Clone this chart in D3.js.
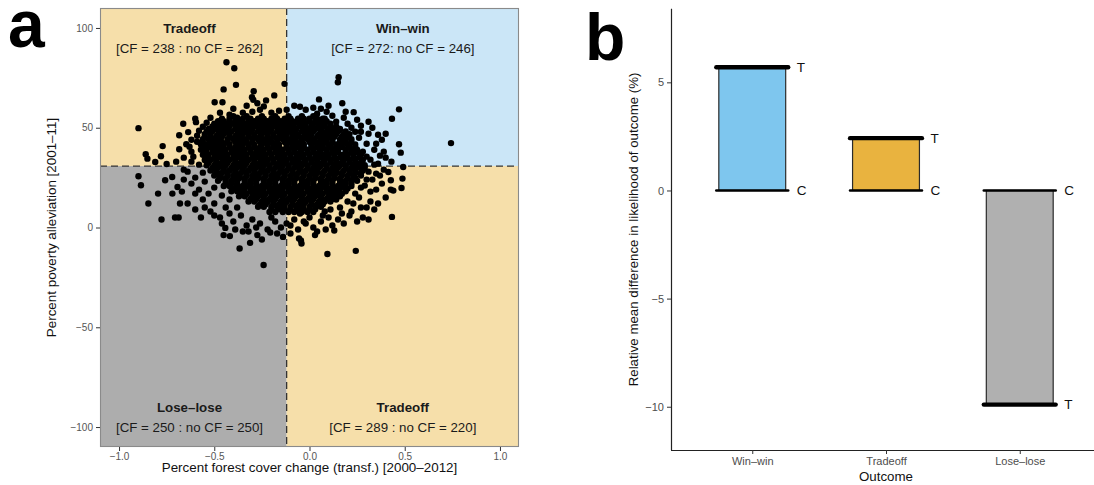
<!DOCTYPE html>
<html><head><meta charset="utf-8">
<script src="https://cdn.jsdelivr.net/npm/d3@7"></script>
<style>
html,body{margin:0;padding:0;background:#fff;}
svg{display:block;font-family:"Liberation Sans",Arial,Helvetica,sans-serif;}
</style></head><body>
<svg id="chart" width="1094" height="485"></svg>
<script>
// ---------------- DATA ----------------
const xThreshold = -0.12;
const yThreshold = 30.8;
const quadrantNames = ["Tradeoff", "Win–win", "Lose–lose", "Tradeoff"];
const quadrantCounts = ["[CF = 238 : no CF = 262]", "[CF = 272: no CF = 246]", "[CF = 250 : no CF = 250]", "[CF = 289 : no CF = 220]"];
const quadrantLabelX = [-0.63, 0.49, -0.63, 0.49];
const quadrantLabelY = [100, 100, -90, -90];
const xTicksA = [-1.0, -0.5, 0.0, 0.5, 1.0];
const yTicksA = [-100, -50, 0, 50, 100];

// dense core of the scatter, row by row: [y, [x values]]
const coreRows = [
  [55.8, [-0.40,-0.33,-0.25,-0.18,-0.11,-0.04,0.02]],
  [54.5, [-0.46,-0.42,-0.38,-0.35,-0.31,-0.27,-0.24,-0.20,-0.17,-0.13,-0.10,-0.06,-0.03,0.00,0.04,0.07]],
  [53.3, [-0.48,-0.45,-0.42,-0.39,-0.36,-0.32,-0.29,-0.25,-0.22,-0.19,-0.15,-0.12,-0.09,-0.06,-0.03,0.00,0.03,0.06,0.09]],
  [52.0, [-0.50,-0.47,-0.44,-0.40,-0.37,-0.34,-0.30,-0.27,-0.23,-0.20,-0.17,-0.14,-0.11,-0.08,-0.05,-0.02,0.02,0.05,0.08,0.11]],
  [50.7, [-0.51,-0.48,-0.45,-0.42,-0.38,-0.35,-0.32,-0.28,-0.25,-0.22,-0.18,-0.15,-0.12,-0.09,-0.05,-0.02,0.01,0.05,0.08,0.11,0.14]],
  [49.4, [-0.53,-0.49,-0.46,-0.43,-0.39,-0.36,-0.33,-0.30,-0.26,-0.23,-0.20,-0.16,-0.13,-0.10,-0.07,-0.03,0.00,0.03,0.06,0.10,0.13,0.16]],
  [48.1, [-0.54,-0.51,-0.47,-0.44,-0.41,-0.37,-0.34,-0.31,-0.27,-0.24,-0.21,-0.17,-0.14,-0.11,-0.08,-0.04,-0.01,0.02,0.06,0.09,0.12,0.15,0.19]],
  [46.8, [-0.55,-0.52,-0.48,-0.45,-0.42,-0.38,-0.35,-0.32,-0.29,-0.25,-0.22,-0.19,-0.15,-0.12,-0.09,-0.06,-0.02,0.01,0.05,0.08,0.11,0.14,0.18,0.21]],
  [45.5, [-0.55,-0.52,-0.49,-0.46,-0.42,-0.39,-0.36,-0.32,-0.29,-0.26,-0.22,-0.19,-0.16,-0.13,-0.09,-0.06,-0.03,0.00,0.04,0.07,0.10,0.13,0.17,0.20]],
  [44.2, [-0.56,-0.53,-0.50,-0.47,-0.43,-0.40,-0.37,-0.34,-0.30,-0.27,-0.24,-0.21,-0.17,-0.14,-0.11,-0.08,-0.04,-0.01,0.02,0.06,0.09,0.12,0.16,0.19,0.22]],
  [42.9, [-0.56,-0.52,-0.49,-0.46,-0.43,-0.39,-0.36,-0.33,-0.30,-0.26,-0.23,-0.20,-0.17,-0.13,-0.10,-0.07,-0.04,0.00,0.03,0.06,0.09,0.12,0.16,0.19,0.22]],
  [41.6, [-0.57,-0.54,-0.51,-0.48,-0.45,-0.42,-0.38,-0.35,-0.32,-0.29,-0.25,-0.22,-0.19,-0.16,-0.12,-0.09,-0.06,-0.03,0.01,0.04,0.07,0.10,0.14,0.17,0.20,0.24]],
  [40.3, [-0.56,-0.52,-0.49,-0.46,-0.42,-0.39,-0.36,-0.32,-0.29,-0.26,-0.22,-0.19,-0.16,-0.12,-0.09,-0.06,-0.03,0.01,0.04,0.07,0.11,0.14,0.17,0.21,0.24]],
  [39.0, [-0.57,-0.54,-0.50,-0.47,-0.44,-0.40,-0.37,-0.34,-0.31,-0.27,-0.24,-0.21,-0.17,-0.14,-0.11,-0.08,-0.04,-0.01,0.02,0.06,0.09,0.12,0.15,0.19,0.22,0.25]],
  [37.7, [-0.55,-0.51,-0.48,-0.45,-0.41,-0.38,-0.35,-0.31,-0.28,-0.25,-0.21,-0.18,-0.15,-0.11,-0.08,-0.05,-0.01,0.02,0.05,0.09,0.12,0.15,0.19,0.22,0.25]],
  [36.4, [-0.56,-0.53,-0.49,-0.46,-0.43,-0.39,-0.36,-0.33,-0.29,-0.26,-0.23,-0.20,-0.16,-0.13,-0.10,-0.06,-0.03,0.00,0.04,0.07,0.10,0.13,0.17,0.20,0.23,0.27]],
  [35.1, [-0.54,-0.50,-0.47,-0.44,-0.40,-0.37,-0.34,-0.30,-0.27,-0.24,-0.20,-0.17,-0.14,-0.10,-0.07,-0.04,0.00,0.03,0.06,0.09,0.13,0.16,0.19,0.23,0.26]],
  [33.8, [-0.55,-0.52,-0.49,-0.45,-0.42,-0.39,-0.35,-0.32,-0.29,-0.25,-0.22,-0.19,-0.15,-0.12,-0.09,-0.06,-0.02,0.01,0.04,0.08,0.11,0.14,0.18,0.21,0.24,0.28]],
  [32.5, [-0.53,-0.49,-0.46,-0.43,-0.39,-0.36,-0.33,-0.29,-0.26,-0.23,-0.19,-0.16,-0.13,-0.09,-0.06,-0.03,0.01,0.04,0.07,0.11,0.14,0.17,0.21,0.24,0.27]],
  [31.2, [-0.54,-0.50,-0.47,-0.44,-0.40,-0.37,-0.34,-0.30,-0.27,-0.24,-0.21,-0.17,-0.14,-0.11,-0.07,-0.04,-0.01,0.03,0.06,0.09,0.13,0.16,0.19,0.23,0.26,0.29]],
  [29.9, [-0.51,-0.48,-0.45,-0.41,-0.38,-0.35,-0.31,-0.28,-0.25,-0.21,-0.18,-0.15,-0.11,-0.08,-0.05,-0.01,0.02,0.05,0.09,0.12,0.15,0.19,0.22,0.25,0.29]],
  [28.6, [-0.52,-0.49,-0.45,-0.42,-0.39,-0.35,-0.32,-0.29,-0.25,-0.22,-0.19,-0.15,-0.12,-0.09,-0.05,-0.02,0.01,0.04,0.08,0.11,0.14,0.18,0.21,0.24,0.28]],
  [27.3, [-0.49,-0.46,-0.43,-0.39,-0.36,-0.33,-0.29,-0.26,-0.23,-0.19,-0.16,-0.13,-0.09,-0.06,-0.03,0.01,0.04,0.07,0.11,0.14,0.17,0.21,0.24,0.27]],
  [26.0, [-0.50,-0.47,-0.43,-0.40,-0.37,-0.33,-0.30,-0.27,-0.23,-0.20,-0.17,-0.13,-0.10,-0.07,-0.03,0.00,0.03,0.07,0.10,0.13,0.17,0.20,0.23,0.27]],
  [24.7, [-0.47,-0.44,-0.40,-0.37,-0.34,-0.30,-0.27,-0.24,-0.20,-0.17,-0.14,-0.10,-0.07,-0.04,0.00,0.03,0.06,0.10,0.13,0.16,0.20,0.23]],
  [23.4, [-0.48,-0.44,-0.41,-0.38,-0.34,-0.31,-0.28,-0.24,-0.21,-0.18,-0.14,-0.11,-0.08,-0.04,-0.01,0.02,0.06,0.09,0.12,0.16,0.19,0.22,0.25]],
  [22.1, [-0.44,-0.41,-0.38,-0.34,-0.31,-0.28,-0.24,-0.21,-0.18,-0.14,-0.11,-0.08,-0.04,-0.01,0.02,0.06,0.09,0.12,0.16,0.19,0.22]],
  [20.8, [-0.45,-0.42,-0.38,-0.35,-0.32,-0.28,-0.25,-0.22,-0.18,-0.15,-0.12,-0.08,-0.05,-0.02,0.02,0.05,0.08,0.12,0.15,0.18,0.22]],
  [19.5, [-0.40,-0.37,-0.34,-0.30,-0.27,-0.24,-0.20,-0.17,-0.14,-0.10,-0.07,-0.04,0.00,0.03,0.06,0.10,0.13,0.16,0.20]],
  [18.2, [-0.41,-0.38,-0.35,-0.31,-0.28,-0.25,-0.21,-0.18,-0.15,-0.11,-0.08,-0.05,-0.01,0.02,0.05,0.09,0.12,0.15,0.19]],
  [16.9, [-0.36,-0.33,-0.29,-0.26,-0.23,-0.19,-0.16,-0.13,-0.09,-0.06,-0.03,0.01,0.04,0.07,0.11,0.14,0.17]],
  [15.6, [-0.37,-0.34,-0.30,-0.27,-0.24,-0.20,-0.17,-0.14,-0.10,-0.07,-0.04,0.00,0.03,0.06,0.10,0.13,0.16]],
  [14.3, [-0.31,-0.28,-0.24,-0.21,-0.18,-0.14,-0.11,-0.08,-0.04,-0.01,0.02,0.06,0.09,0.12]],
  [13.0, [-0.32,-0.29,-0.25,-0.22,-0.19,-0.15,-0.12,-0.09,-0.05,-0.02,0.01,0.05,0.08,0.11]],
  [11.7, [-0.26,-0.23,-0.19,-0.16,-0.13,-0.09,-0.06,-0.03,0.01,0.04,0.07]],
  [10.4, [-0.27,-0.24,-0.20,-0.17,-0.14,-0.10,-0.07,-0.04,0.00,0.03,0.06]],
  [9.1,  [-0.20,-0.16,-0.13,-0.10,-0.06,-0.03,0.00,0.03]],
  [7.8,  [-0.21,-0.18,-0.14,-0.11,-0.08,-0.04,-0.01,0.02]]
];

// scattered points around the core: [x, y]
const fringePoints = [
  // upper left
  [-0.898,49.8],[-0.436,82.8],[-0.395,79.8],[-0.386,71.5],[-0.451,69.2],[-0.131,72.0],[-0.293,68.3],
  [-0.302,65.3],[-0.295,64.0],[-0.185,66.2],[-0.228,63.7],[-0.274,62.3],[-0.498,62.8],[-0.457,62.8],
  [-0.240,60.7],[-0.400,59.5],[-0.684,46.2],[-0.663,52.0],[-0.637,47.8],[-0.647,41.7],[-0.684,39.2],
  [-0.600,54.5],[-0.596,52.8],[-0.860,36.7],[-0.851,34.5],[-0.810,32.8],[-0.771,40.8],[-0.780,35.7],
  [-0.620,44.0],[-0.580,48.5],[-0.700,33.0],[-0.750,31.8],[-0.660,35.0],[-0.620,38.0],[-0.590,43.0],
  [-0.350,57.5],[-0.300,58.0],[-0.200,57.5],[-0.160,58.5],[-0.420,56.5],[-0.520,55.0],[-0.560,50.5],
  [-0.120,59.0],[-0.260,59.0],[-0.330,61.0],[-0.380,55.0],[-0.470,57.5],[-0.540,52.5],[-0.590,46.0],
  [-0.630,40.5],[-0.610,35.5],[-0.580,31.5],[-0.620,33.0],
  // upper right
  [0.153,75.3],[0.149,72.8],[0.050,64.2],[0.172,62.3],[0.232,57.8],[0.470,59.2],[0.433,54.5],[0.743,42.3],
  [0.470,41.7],[0.479,37.5],[0.400,47.0],[0.380,44.0],[0.360,46.5],[0.330,50.0],[0.310,53.0],[0.250,54.0],
  [0.220,50.0],[0.270,48.0],[0.300,42.0],[0.340,39.0],[0.370,36.0],[0.400,35.0],[0.430,33.0],[0.360,32.0],
  [0.320,34.0],[-0.050,60.5],[-0.080,61.0],[-0.020,59.0],[0.020,60.0],[0.090,58.0],[0.120,56.0],[0.180,55.0],
  [0.200,52.0],[0.140,53.0],[0.260,45.0],[0.280,38.0],[0.300,35.5],[0.040,57.0],[0.080,54.5],[0.160,49.0],
  [0.390,38.0],[0.350,42.0],[0.310,47.0],[0.270,51.0],[0.240,48.0],[0.190,58.0],[0.100,61.0],[0.060,59.5],
  [0.340,31.5],
  // lower right
  [0.492,30.3],[0.488,24.5],[0.483,19.8],[0.433,5.3],[0.427,19.0],[0.440,18.5],[0.427,23.7],[0.414,27.8],
  [0.243,-11.7],[0.094,-13.3],[0.029,-3.8],[0.085,-1.0],[-0.055,-5.5],[-0.042,-8.0],[-0.045,-6.5],
  [0.350,27.0],[0.380,22.0],[0.400,15.0],[0.360,12.0],[0.320,18.0],[0.300,10.0],[0.280,5.0],[0.250,3.0],
  [0.220,8.0],[0.180,2.0],[0.150,4.0],[0.120,1.0],[0.100,5.0],[0.060,3.0],[0.020,0.0],[0.040,-2.0],
  [0.080,8.0],[0.160,10.0],[0.200,13.0],[0.260,15.0],[0.290,21.0],[0.330,24.0],[0.310,28.0],[0.270,30.0],
  [0.240,17.0],[0.210,6.0],[0.130,-1.5],[0.340,9.0],[0.310,4.0],[-0.020,2.0],[-0.060,-1.0],[-0.100,1.0],
  [0.050,11.0],[0.140,14.0],[0.240,25.0],[0.270,10.0],[0.190,20.0],[0.390,29.0],[0.350,19.0],
  [-0.080,4.0],[-0.050,7.0],[-0.030,3.0],[0.000,5.0],[0.070,6.0],[0.110,9.0],[0.170,7.0],[0.230,12.0],
  [0.270,20.0],[0.300,24.0],[0.370,26.0],[0.320,13.0],
  // lower left
  [-0.777,4.0],[-0.706,5.0],[-0.687,5.0],[-0.846,12.0],[-0.885,21.2],[-0.898,25.7],[-0.795,17.0],
  [-0.758,23.7],[-0.721,25.3],[-0.693,20.3],[-0.312,-7.7],[-0.367,-10.5],[-0.241,-18.8],[-0.274,-3.8],
  [-0.206,-2.5],[-0.139,-4.7],[-0.451,-3.8],[-0.418,-4.3],[-0.442,-0.2],[-0.640,28.0],[-0.620,22.0],
  [-0.600,25.0],[-0.580,19.0],[-0.560,14.0],[-0.640,12.0],[-0.600,9.0],[-0.570,5.0],[-0.520,8.0],
  [-0.500,12.0],[-0.530,17.0],[-0.470,5.0],[-0.440,10.0],[-0.400,3.0],[-0.360,6.0],[-0.330,1.0],
  [-0.300,4.0],[-0.260,2.0],[-0.220,-1.0],[-0.180,3.0],[-0.150,0.0],[-0.120,2.0],[-0.100,-3.0],
  [-0.350,-2.0],[-0.280,0.0],[-0.380,10.0],[-0.680,12.0],[-0.720,17.0],[-0.660,24.0],[-0.670,18.0],
  [-0.550,23.0],[-0.500,20.0],[-0.460,16.0],[-0.420,14.0],[-0.480,27.0],
  [-0.660,29.0],[-0.560,27.5],[-0.600,17.0],[-0.550,10.0],[-0.500,6.0],[-0.460,2.0],[-0.420,7.0],
  [-0.390,-1.0],[-0.320,-2.0],[-0.250,-6.0],[-0.200,5.0],[-0.170,-3.0]
];

// panel b
const outcomes = ["Win–win", "Tradeoff", "Lose–lose"];
const controlValues = [0, 0, 0];
const treatedValues = [5.7, 2.42, -9.9];
const barColors = ["#7EC6EE", "#E9B33F", "#B0B0B0"];
const yTicksB = [-10, -5, 0, 5];

// ---------------- DRAW ----------------
const svg = d3.select("#chart");
const FONT = '"Liberation Sans",Arial,Helvetica,sans-serif';

// ===== Panel a =====
const A = {left: 100, right: 519, top: 8, bottom: 447};
const xA = d3.scaleLinear().domain([-1.1, 1.1]).range([A.left, A.right]);
const yA = d3.scaleLinear().domain([-110, 110]).range([A.bottom, A.top]);
const gA = svg.append("g");

const quads = [
  {x0: -1.1, x1: xThreshold, y0: yThreshold, y1: 110, fill: "#F6DFAA"},
  {x0: xThreshold, x1: 1.1, y0: yThreshold, y1: 110, fill: "#CBE6F7"},
  {x0: -1.1, x1: xThreshold, y0: -110, y1: yThreshold, fill: "#ADADAD"},
  {x0: xThreshold, x1: 1.1, y0: -110, y1: yThreshold, fill: "#F6DFAA"}
];
gA.selectAll("rect.quad").data(quads).join("rect")
  .attr("x", d => xA(d.x0)).attr("y", d => yA(d.y1))
  .attr("width", d => xA(d.x1) - xA(d.x0)).attr("height", d => yA(d.y0) - yA(d.y1))
  .attr("fill", d => d.fill);

// labels
quadrantNames.forEach((n, i) => {
  gA.append("text").attr("x", xA(quadrantLabelX[i])).attr("y", yA(quadrantLabelY[i]))
    .attr("dy", "0.35em").attr("text-anchor", "middle").attr("font-weight", "bold")
    .attr("font-size", 13.3).attr("fill", "#1a1a1a").text(n);
  gA.append("text").attr("x", xA(quadrantLabelX[i])).attr("y", yA(quadrantLabelY[i] - 10))
    .attr("dy", "0.35em").attr("text-anchor", "middle")
    .attr("font-size", 13.3).attr("fill", "#1a1a1a").text(quadrantCounts[i]);
});

// dashed threshold lines (under the points)
gA.append("line").attr("x1", xA(xThreshold)).attr("x2", xA(xThreshold))
  .attr("y1", A.top).attr("y2", A.bottom)
  .attr("stroke", "#333").attr("stroke-width", 1.3).attr("stroke-dasharray", "7,4");
gA.append("line").attr("x1", A.left).attr("x2", A.right)
  .attr("y1", yA(yThreshold)).attr("y2", yA(yThreshold))
  .attr("stroke", "#333").attr("stroke-width", 1.3).attr("stroke-dasharray", "7,4");

// points
const points = coreRows.flatMap(([y, xs]) => xs.map(x => [x, y])).concat(fringePoints);
gA.append("g").selectAll("circle").data(points).join("circle")
  .attr("cx", d => xA(d[0])).attr("cy", d => yA(d[1])).attr("r", 3.2).attr("fill", "#000");

// border
gA.append("rect").attr("x", A.left + 0.5).attr("y", A.top + 0.5)
  .attr("width", A.right - A.left - 1).attr("height", A.bottom - A.top - 1)
  .attr("fill", "none").attr("stroke", "#8a8a8a").attr("stroke-width", 1.1);

// axes
const axA_x = gA.append("g").attr("transform", `translate(0,${A.bottom})`)
  .call(d3.axisBottom(xA).tickValues(xTicksA).tickFormat(d3.format(".1f")).tickSize(4).tickPadding(2));
const axA_y = gA.append("g").attr("transform", `translate(${A.left},0)`)
  .call(d3.axisLeft(yA).tickValues(yTicksA).tickFormat(d3.format("d")).tickSize(4).tickPadding(3));
[axA_x, axA_y].forEach(ax => {
  ax.select(".domain").remove();
  ax.attr("font-family", FONT).attr("font-size", 10);
  ax.selectAll(".tick line").attr("stroke", "#333");
  ax.selectAll(".tick text").attr("fill", "#555");
});

gA.append("text").attr("x", (A.left + A.right) / 2).attr("y", 472)
  .attr("text-anchor", "middle").attr("font-size", 13.4).attr("fill", "#111")
  .text("Percent forest cover change (transf.) [2000–2012]");
gA.append("text").attr("transform", `translate(56,${(A.top + A.bottom) / 2}) rotate(-90)`)
  .attr("text-anchor", "middle").attr("font-size", 13.4).attr("fill", "#111")
  .text("Percent poverty alleviation [2001–11]");

svg.append("text").attr("x", 8).attr("y", 47).attr("font-size", 66).attr("font-weight", "bold")
  .attr("fill", "#000").text("a");

// ===== Panel b =====
const B = {left: 671, right: 1100, top: 8.8, bottom: 450};
const xB = d3.scalePoint().domain(outcomes).range([B.left + 1, B.right]).padding(0.6);
const yB = d3.scaleLinear().domain([-12, 8.4]).range([B.bottom, B.top]);
const gB = svg.append("g");
const bw = xB.step() * 0.5;

const rows = outcomes.map((o, i) => ({o, c: controlValues[i], t: treatedValues[i], col: barColors[i]}));

gB.selectAll("rect.bar").data(rows).join("rect")
  .attr("x", d => xB(d.o) - bw / 2).attr("width", bw)
  .attr("y", d => yB(Math.max(d.c, d.t))).attr("height", d => Math.abs(yB(d.c) - yB(d.t)))
  .attr("fill", d => d.col).attr("stroke", "#2b2b2b").attr("stroke-width", 1.2);

// control segments
gB.selectAll("line.c").data(rows).join("line")
  .attr("x1", d => xB(d.o) - bw / 2 - 2.5).attr("x2", d => xB(d.o) + bw / 2 + 2.5)
  .attr("y1", d => yB(d.c)).attr("y2", d => yB(d.c))
  .attr("stroke", "#000").attr("stroke-width", 2.6).attr("stroke-linecap", "round");
// treated segments
gB.selectAll("line.t").data(rows).join("line")
  .attr("x1", d => xB(d.o) - bw / 2 - 2.5).attr("x2", d => xB(d.o) + bw / 2 + 2.5)
  .attr("y1", d => yB(d.t)).attr("y2", d => yB(d.t))
  .attr("stroke", "#000").attr("stroke-width", 4.4).attr("stroke-linecap", "round");

gB.selectAll("text.tl").data(rows).join("text")
  .attr("x", d => xB(d.o) + bw / 2 + 11).attr("y", d => yB(d.t)).attr("dy", "0.36em")
  .attr("font-size", 13.5).attr("fill", "#111").text("T");
gB.selectAll("text.cl").data(rows).join("text")
  .attr("x", d => xB(d.o) + bw / 2 + 11).attr("y", d => yB(d.c)).attr("dy", "0.36em")
  .attr("font-size", 13.5).attr("fill", "#111").text("C");

const axB_x = gB.append("g").attr("transform", `translate(0,${B.bottom})`)
  .call(d3.axisBottom(xB).tickSize(4).tickSizeOuter(0).tickPadding(3));
axB_x.select(".domain").attr("d", `M${B.left},0.5H${B.right}`);
const axB_y = gB.append("g").attr("transform", `translate(${B.left},0)`)
  .call(d3.axisLeft(yB).tickValues(yTicksB).tickFormat(d3.format("d")).tickSize(4).tickSizeOuter(0).tickPadding(3));
axB_y.select(".domain").attr("d", `M0.5,${B.top}V${B.bottom}`);
[axB_x, axB_y].forEach(ax => {
  ax.attr("font-family", FONT).attr("font-size", 11);
  ax.select(".domain").attr("stroke", "#222").attr("stroke-width", 1.2);
  ax.selectAll(".tick line").attr("stroke", "#333");
  ax.selectAll(".tick text").attr("fill", "#4d4d4d");
});

gB.append("text").attr("x", xB("Tradeoff")).attr("y", 481)
  .attr("text-anchor", "middle").attr("font-size", 13.3).attr("fill", "#111").text("Outcome");
gB.append("text").attr("transform", `translate(638,${(B.top + B.bottom) / 2}) rotate(-90)`)
  .attr("text-anchor", "middle").attr("font-size", 13.3).attr("fill", "#111")
  .text("Relative mean difference in likelihood of outcome (%)");

svg.append("text").attr("x", 585).attr("y", 60).attr("font-size", 66).attr("font-weight", "bold")
  .attr("fill", "#000").text("b");
</script>
</body></html>
